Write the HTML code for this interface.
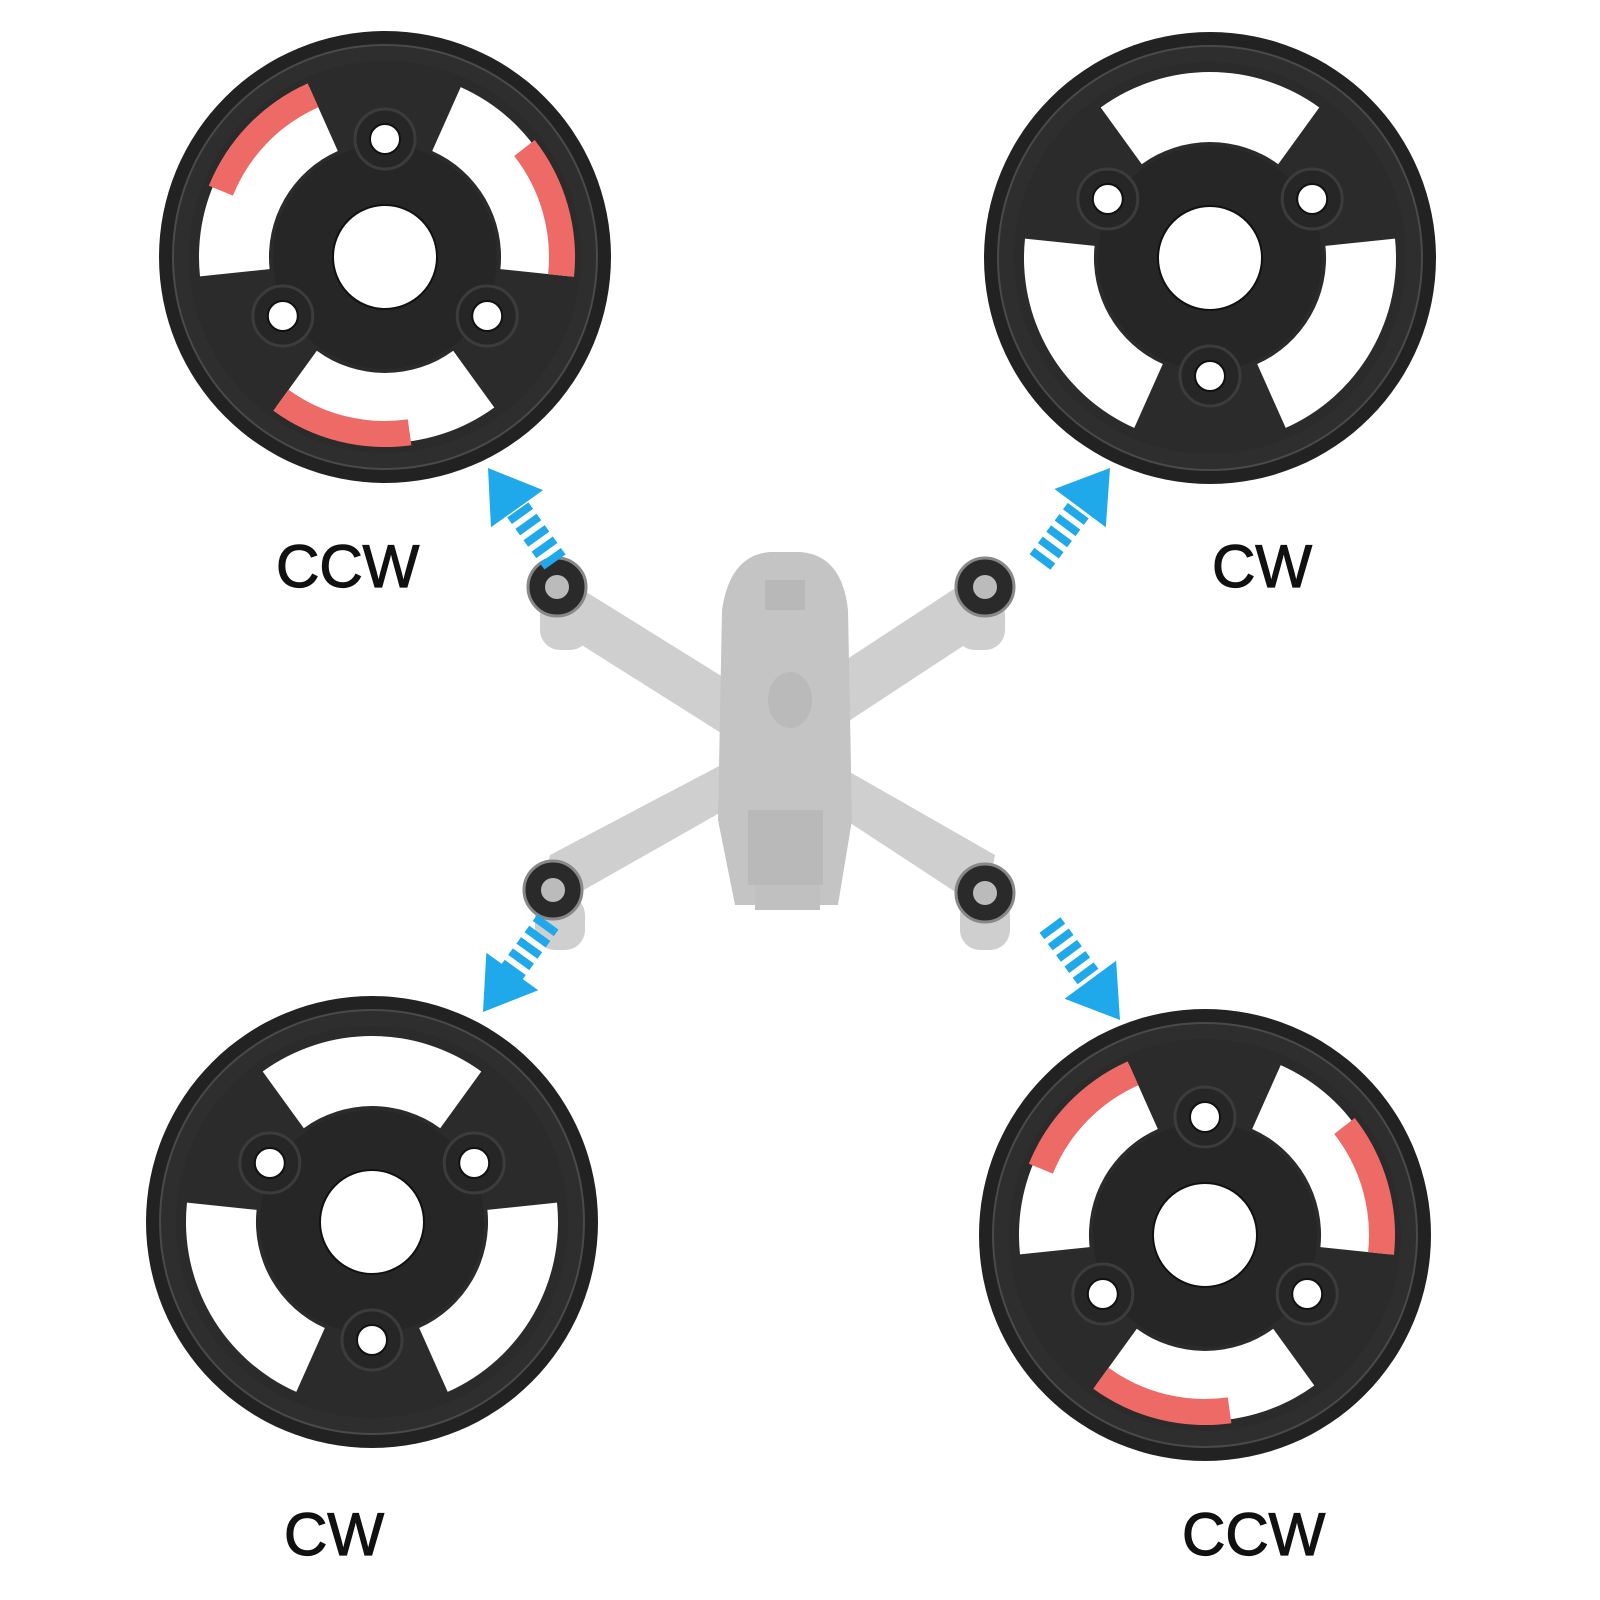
<!DOCTYPE html>
<html><head><meta charset="utf-8"><style>
html,body{margin:0;padding:0;background:#fff;}
svg{display:block}
text{font-family:"Liberation Sans",sans-serif;fill:#111;stroke:#111;stroke-width:1.2px;}
</style></head><body>
<svg id="s" width="1600" height="1600" viewBox="0 0 1600 1600" xmlns="http://www.w3.org/2000/svg">
<rect width="1600" height="1600" fill="#fff"/>
<g id="g"></g>
<text x="276" y="587" font-size="60">CCW</text>
<text x="1212" y="587" font-size="60">CW</text>
<text x="284" y="1555" font-size="60">CW</text>
<text x="1182" y="1555" font-size="60">CCW</text>
</svg>
<script>
var g=document.getElementById('g');var h='';
function P(a){return a*Math.PI/180}
function sector(cx,cy,r1,r2,a1,a2,fill){
 var p=function(r,a){return (cx+r*Math.cos(P(a))).toFixed(1)+','+(cy+r*Math.sin(P(a))).toFixed(1)};
 var lg=(a2-a1)>180?1:0;
 return '<path d="M'+p(r2,a1)+' A'+r2+','+r2+' 0 '+lg+' 1 '+p(r2,a2)+' L'+p(r1,a2)+' A'+r1+','+r1+' 0 '+lg+' 0 '+p(r1,a1)+'Z" fill="'+fill+'"/>';
}
function disc(cx,cy,rot,reds){
 var s='';
 s+='<circle cx="'+cx+'" cy="'+cy+'" r="226" fill="#222"/>';
 s+='<circle cx="'+cx+'" cy="'+cy+'" r="212" fill="#2e2e2e" stroke="#4a4a4a" stroke-width="2"/>';
 s+='<circle cx="'+cx+'" cy="'+cy+'" r="196" fill="#2b2b2b"/>';
 for(var i=0;i<3;i++){
  var c=rot+i*120;
  s+=sector(cx,cy,116,186,c-36,c+36,'#fff');
 }
 s+='<circle cx="'+cx+'" cy="'+cy+'" r="112" fill="#262626"/>';
 for(var i=0;i<3;i++){
  var a=rot-60+i*120;
  var hx=cx+118*Math.cos(P(a)),hy=cy+118*Math.sin(P(a));
  s+='<circle cx="'+hx.toFixed(1)+'" cy="'+hy.toFixed(1)+'" r="30" fill="#262626" stroke="#3c3c3c" stroke-width="3"/>';
  s+='<circle cx="'+hx.toFixed(1)+'" cy="'+hy.toFixed(1)+'" r="15" fill="#fff" stroke="#111" stroke-width="2"/>';
 }
 s+='<circle cx="'+cx+'" cy="'+cy+'" r="52" fill="#fff" stroke="#111" stroke-width="2"/>';
 if(reds){for(var i=0;i<3;i++){var c=rot+i*120;s+=sector(cx,cy,164,190,c-8,c+36,'#ee6a66');}}
 return s;
}
h+=disc(385,257,-150,true);
h+=disc(1210,258,-90,false);
h+=disc(372,1222,-90,false);
h+=disc(1205,1235,-150,true);
function arrow(x1,y1,x2,y2){
 var dx=x2-x1,dy=y2-y1,L=Math.hypot(dx,dy),ux=dx/L,uy=dy/L,nx=-uy,ny=ux;
 var hl=50,hw=32,s='';
 var bx=x2-ux*hl,by=y2-uy*hl;
 s+='<line x1="'+x1+'" y1="'+y1+'" x2="'+(bx+ux*4)+'" y2="'+(by+uy*4)+'" stroke="#1fa9ea" stroke-width="26" stroke-dasharray="8 6"/>';
 s+='<polygon points="'+x2+','+y2+' '+(bx+nx*hw)+','+(by+ny*hw)+' '+(bx-nx*hw)+','+(by-ny*hw)+'" fill="#1fa9ea"/>';
 return s;
}
var gr='#cfcfcf';
h+='<g fill="'+gr+'">';
h+='<polygon points="545,575 575,585 760,700 740,745 550,625"/>';
h+='<polygon points="990,575 960,585 800,690 820,740 995,625"/>';
h+='<polygon points="545,880 575,895 760,790 740,755 550,855"/>';
h+='<polygon points="990,880 960,895 800,790 820,755 995,855"/>';
h+='<rect x="540" y="595" width="50" height="55" rx="20"/>';
h+='<rect x="955" y="595" width="50" height="55" rx="20"/>';
h+='<rect x="535" y="895" width="50" height="55" rx="20"/>';
h+='<rect x="960" y="895" width="50" height="55" rx="20"/>';
h+='</g>';
h+='<path d="M722,610 Q730,555 770,552 L800,552 Q842,555 848,610 L852,820 L838,905 L735,905 L718,820 Z" fill="#c4c4c4"/>';
h+='<rect x="748" y="810" width="75" height="75" fill="#b3b3b3" opacity="0.6"/>';
h+='<rect x="755" y="885" width="65" height="25" fill="#c0c0c0"/>';
h+='<ellipse cx="790" cy="700" rx="22" ry="28" fill="#bababa"/>';
h+='<rect x="765" y="580" width="40" height="30" fill="#b8b8b8"/>';
[[557,587],[985,587],[553,890],[985,893]].forEach(function(m){
 h+='<circle cx="'+m[0]+'" cy="'+m[1]+'" r="29" fill="#2a2a2a" stroke="#888" stroke-width="3"/>';
 h+='<circle cx="'+m[0]+'" cy="'+m[1]+'" r="12" fill="#bbb"/>';
});
h+=arrow(555,562,488,468);
h+=arrow(1040,562,1110,468);
h+=arrow(548,922,483,1012);
h+=arrow(1050,925,1120,1020);
g.innerHTML=h;
</script>
</body></html>
